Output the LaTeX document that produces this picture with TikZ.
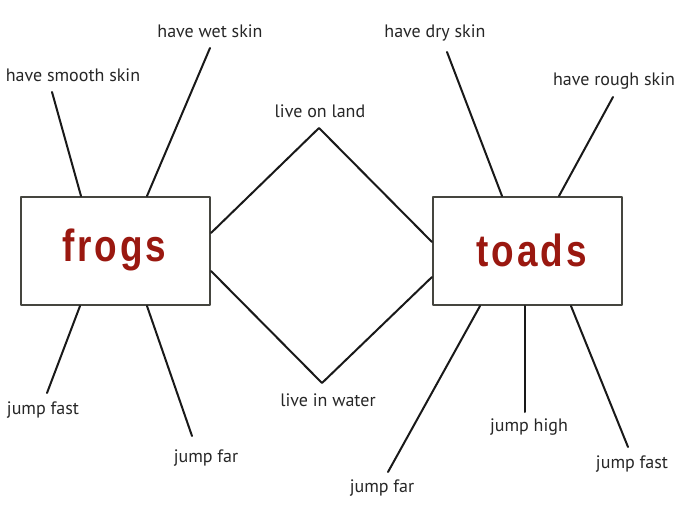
\documentclass[tikz,border=0pt]{standalone}
\usepackage{fontspec}
\usepackage{graphicx}
\setmainfont{PT Sans}
\newfontfamily\namefont[LetterSpace=8]{Liberation Sans}
\usetikzlibrary{positioning,calc}
\definecolor{frogred}{HTML}{9A1810}
\definecolor{boxline}{HTML}{45453F}
\tikzset{
    every picture/.style={line cap=round,line join=round},
    animalbox/.style={draw=boxline,fill=white,line width=2pt,
      minimum width=189pt,minimum height=108pt,inner sep=0pt},
    animalname/.style={text=frogred,font=\namefont\bfseries\fontsize{45}{45}\selectfont},
    factlabel/.style={font=\fontsize{18}{20}\selectfont,inner sep=1pt,text=black!85},
    spoke/.style={draw=black!90,line width=2pt}
}
\newcommand{\squeeze}[1]{\scalebox{0.82}[1]{#1}}
\begin{document}
\begin{tikzpicture}[x=1pt,y=-1pt]
  \useasboundingbox (0,0) rectangle (677,510);
  % the two animals
  \node[animalbox] (frogs) at (115.5,251) {};
  \node[animalname] at ($(frogs.center)+(-1,-1)$) {\squeeze{frogs}};
  \node[animalbox] (toads) at (527.5,251) {};
  \node[animalname] at ($(toads.center)+(4,-1)$) {\squeeze{toads}};

  % what they share
  \coordinate (land) at (319,128);
  \coordinate (water) at (322,383);
  \node[factlabel] (onland) at (320,111) {live on land};
  \node[factlabel] (inwater) at (328,400) {live in water};
  \draw[spoke] ([yshift=18pt]frogs.east) -- (land) -- ([yshift=9pt]toads.west);
  \draw[spoke] ([yshift=-20pt]frogs.east) -- (water) -- ([yshift=-26pt]toads.west);

  % frogs only
  \node[factlabel] (smooth) at (73,75) {have smooth skin};
  \node[factlabel] (wet) at (210,31) {have wet skin};
  \node[factlabel] (ffast) at (43,410) {jump fast};
  \node[factlabel] (ffar) at (206,458) {jump far};
  \coordinate (smoothend) at (52,92);
  \coordinate (wetend) at (210,48);
  \coordinate (ffastend) at (47,393);
  \coordinate (ffarend) at (192,436);
  \draw[spoke] ([xshift=61pt]frogs.north west) -- (smoothend);
  \draw[spoke] ([xshift=127pt]frogs.north west) -- (wetend);
  \draw[spoke] ([xshift=60pt]frogs.south west) -- (ffastend);
  \draw[spoke] ([xshift=127pt]frogs.south west) -- (ffarend);

  % toads only
  \node[factlabel] (dry) at (435,33) {have dry skin};
  \node[factlabel] (rough) at (614,81) {have rough skin};
  \node[factlabel] (tfar) at (382,488) {jump far};
  \node[factlabel] (thigh) at (529,427) {jump high};
  \node[factlabel] (tfast) at (632,464) {jump fast};
  \coordinate (dryend) at (447,52);
  \coordinate (roughend) at (613,97);
  \coordinate (tfarend) at (388,472);
  \coordinate (thighend) at (525,412);
  \coordinate (tfastend) at (628,447);
  \draw[spoke] ([xshift=70pt]toads.north west) -- (dryend);
  \draw[spoke] ([xshift=127pt]toads.north west) -- (roughend);
  \draw[spoke] ([xshift=48pt]toads.south west) -- (tfarend);
  \draw[spoke] ([xshift=93pt]toads.south west) -- (thighend);
  \draw[spoke] ([xshift=139pt]toads.south west) -- (tfastend);
\end{tikzpicture}
\end{document}
